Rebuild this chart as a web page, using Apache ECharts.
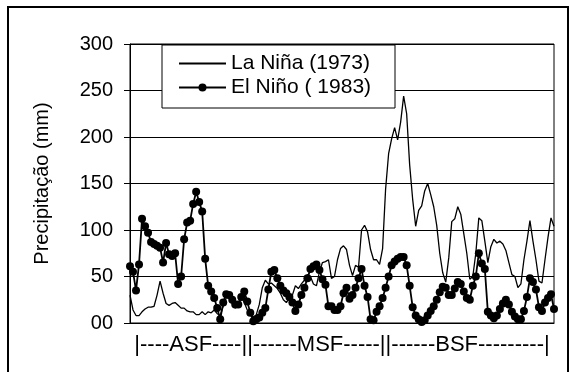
<!DOCTYPE html>
<html>
<head>
<meta charset="utf-8">
<script src="https://cdn.jsdelivr.net/npm/echarts@6/dist/echarts.min.js"></script>
<style>
  html, body { margin: 0; padding: 0; background: #fff; }
  #chart { width: 570px; height: 372px; }
</style>
</head>
<body>
<div id="chart"></div>
<script>
// precipitação La Niña x El Niño
var laNina = [30,14,8,8,12,15,17,17,18,30,
  45,32,21,19,21,22,19,16,16,13,
  12,12,9,9,12,9,12,11,14,10,
  8,18,27,27,21,16,21,28,22,14,
  9,6,9,20,38,46,42,43,40,37,
  32,25,22,27,30,40,37,42,46,52,
  50,42,40,55,65,66,68,48,50,68,
  80,83,79,62,51,62,60,100,105,98,
  79,68,68,63,80,144,182,198,210,197,
  216,244,225,170,133,104,121,126,142,150,
  138,125,105,75,54,44,70,109,112,125,
  117,96,75,47,50,75,113,110,88,65,
  82,90,86,88,85,78,65,52,50,38,
  42,68,88,110,88,68,45,43,68,92,
  113,104];

var elNino = [61,55,35,63,112,104,97,87,85,83,
  81,65,86,74,72,75,42,50,90,108,
  110,128,141,130,120,69,40,34,27,16,
  4,22,31,30,25,20,20,28,34,23,
  11,2,4,6,11,16,36,55,57,48,
  40,35,32,28,22,13,20,30,38,48,
  58,61,63,57,47,41,18,18,14,14,
  18,32,38,26,30,38,48,58,40,28,
  4,3,12,18,27,38,50,62,66,69,
  71,71,62,40,17,8,4,1,3,8,
  13,18,25,33,39,38,30,30,37,44,
  42,34,27,25,40,50,75,64,58,12,
  8,5,8,15,21,25,20,12,7,4,
  4,13,28,48,44,36,17,13,22,27,
  31,15];

var seriesNames = ["La Niña (1973)", "El Niño ( 1983)"];
var yTickLabels = ["00", "50", "100", "150", "200", "250", "300"];
var xAxisTitle = "|----ASF----||------MSF-----||------BSF---------|";
var yAxisTitle = "Precipitação (mm)";

// categorias = índice de cada observação
var categories = laNina.map(function (v, i) { return i + 1; });

var FONT = "Liberation Sans, Arial, sans-serif";
var myChart = echarts.init(document.getElementById("chart"), null, { renderer: "canvas" });

var option = {
  animation: false,
  backgroundColor: "#fff",
  grid: {
    left: 130,
    right: 16,
    top: 44,
    bottom: 49,
    show: true,
    borderColor: "#000",
    borderWidth: 1
  },
  legend: {
    data: [
      {
        name: seriesNames[0],
        // só a linha, sem marcador
        itemStyle: { color: "rgba(0,0,0,0)", borderColor: "rgba(0,0,0,0)", borderWidth: 0 }
      },
      { name: seriesNames[1] }
    ],
    orient: "vertical",
    left: 178,
    top: 53,
    padding: 0,
    itemGap: 3,
    itemWidth: 47,
    itemHeight: 10,
    z: 11,
    textStyle: { color: "#000", fontSize: 21, fontFamily: FONT }
  },
  graphic: [
    {
      // caixa da legenda
      type: "rect",
      z: 10,
      shape: { x: 162, y: 45, width: 233, height: 63 },
      style: { fill: "#fff", stroke: "#000", lineWidth: 1 }
    },
    {
      // moldura externa
      type: "rect",
      z: 20,
      silent: true,
      shape: { x: 8, y: 7, width: 560, height: 372 },
      style: { fill: "none", stroke: "#000", lineWidth: 2 }
    }
  ],
  xAxis: {
    type: "category",
    data: categories,
    boundaryGap: false,
    name: xAxisTitle,
    nameLocation: "middle",
    nameGap: 11,
    nameTextStyle: { color: "#000", fontSize: 22, fontFamily: FONT },
    axisLine: { lineStyle: { color: "#000", width: 1 } },
    axisTick: { show: false },
    axisLabel: { show: false },
    splitLine: { show: false }
  },
  yAxis: {
    type: "value",
    min: 0,
    max: 300,
    interval: 50,
    name: yAxisTitle,
    nameLocation: "middle",
    nameGap: 78,
    nameTextStyle: { color: "#000", fontSize: 20, fontFamily: FONT },
    axisLine: { show: true, lineStyle: { color: "#000", width: 1 } },
    axisTick: { show: true, length: 6, lineStyle: { color: "#000" } },
    axisLabel: {
      color: "#000",
      fontSize: 20,
      fontFamily: FONT,
      margin: 17,
      formatter: function (v) { return yTickLabels[Math.round(v / 50)]; }
    },
    splitLine: { lineStyle: { color: "#000", width: 1 } }
  },
  series: [
    {
      name: seriesNames[0],
      type: "line",
      data: laNina,
      symbol: "none",
      lineStyle: { color: "#000", width: 1.3 },
      itemStyle: { color: "#000" }
    },
    {
      name: seriesNames[1],
      type: "line",
      data: elNino,
      symbol: "circle",
      symbolSize: 8,
      showSymbol: true,
      showAllSymbol: true,
      lineStyle: { color: "#000", width: 1.8 },
      itemStyle: { color: "#000" }
    }
  ]
};

myChart.setOption(option);
</script>
</body>
</html>
